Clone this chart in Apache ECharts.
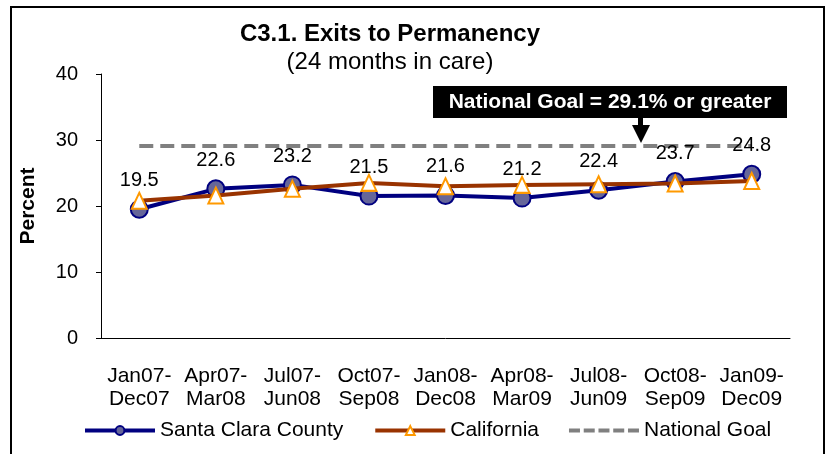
<!DOCTYPE html>
<html>
<head>
<meta charset="utf-8">
<script src="https://cdn.jsdelivr.net/npm/echarts@6/dist/echarts.min.js"></script>
<style>
    html, body {margin: 0; padding: 0; background: #fff;}
    #chart {width: 828px; height: 454px;}
</style>
</head>
<body>
<div id="chart"></div>
<script>
// 数据
var periods = ['Jan07-\nDec07', 'Apr07-\nMar08', 'Jul07-\nJun08', 'Oct07-\nSep08', 'Jan08-\nDec08',
    'Apr08-\nMar09', 'Jul08-\nJun09', 'Oct08-\nSep09', 'Jan09-\nDec09'];
var santaClara = [19.5, 22.6, 23.2, 21.5, 21.6, 21.2, 22.4, 23.7, 24.8];
var california = [20.8, 21.6, 22.6, 23.5, 23.0, 23.2, 23.3, 23.4, 23.8];
var nationalGoal = [29.1, 29.1, 29.1, 29.1, 29.1, 29.1, 29.1, 29.1, 29.1];
var yTicks = {min: 0, max: 40, interval: 10};

var font = 'Liberation Sans, Arial, sans-serif';
// 图例里的虚线图标
var dashIcon = 'path://M0,0h11v4h-11zM14.75,0h11v4h-11zM29.5,0h11v4h-11zM44.25,0h11v4h-11zM59,0h11v4h-11z';

var chart = echarts.init(document.getElementById('chart'));
var option = {
    backgroundColor: '#fff',
    animation: false,
    textStyle: {fontFamily: font, color: '#000'},
    title: {
        text: 'C3.1. Exits to Permanency',
        subtext: '(24 months in care)',
        left: 385,
        textAlign: 'center',
        top: 17,
        itemGap: 4,
        textStyle: {fontFamily: font, fontSize: 24, fontWeight: 'bold', color: '#000'},
        subtextStyle: {fontFamily: font, fontSize: 24, color: '#000'}
    },
    grid: {left: 101, right: 38, top: 74, bottom: 116},
    legend: {
        left: 78,
        top: 415,
        itemWidth: 70,
        itemHeight: 11,
        itemGap: 30,
        lineStyle: {width: 4},
        textStyle: {fontFamily: font, fontSize: 21, color: '#000'},
        data: ['Santa Clara County', 'California', {name: 'National Goal', icon: dashIcon}]
    },
    xAxis: {
        type: 'category',
        data: periods,
        boundaryGap: true,
        axisLine: {lineStyle: {color: '#000', width: 1}},
        axisTick: {alignWithLabel: true, inside: true, length: 5, lineStyle: {color: '#000'}},
        axisLabel: {fontFamily: font, fontSize: 21, color: '#000', lineHeight: 23, margin: 27, interval: 0}
    },
    yAxis: {
        type: 'value',
        min: yTicks.min,
        max: yTicks.max,
        interval: yTicks.interval,
        name: 'Percent',
        nameLocation: 'middle',
        nameRotate: 90,
        nameGap: 62,
        nameTextStyle: {fontFamily: font, fontSize: 21, fontWeight: 'bold', color: '#000'},
        axisLine: {show: true, lineStyle: {color: '#000', width: 1}},
        axisTick: {show: true, length: 5, lineStyle: {color: '#000'}},
        axisLabel: {fontFamily: font, fontSize: 20, color: '#000', margin: 23},
        splitLine: {show: false}
    },
    series: [
        {
            name: 'National Goal',
            type: 'line',
            data: nationalGoal,
            symbol: 'none',
            z: 1,
            lineStyle: {color: '#808080', width: 4, type: [14, 7]},
            itemStyle: {color: '#808080'}
        },
        {
            name: 'California',
            type: 'line',
            data: california,
            symbol: 'triangle',
            symbolSize: [15, 16],
            z: 3,
            lineStyle: {color: '#993300', width: 4},
            itemStyle: {color: '#fff', borderColor: '#FF9900', borderWidth: 2}
        },
        {
            name: 'Santa Clara County',
            type: 'line',
            data: santaClara,
            symbol: 'circle',
            symbolSize: 17,
            z: 2,
            lineStyle: {color: '#000080', width: 4},
            itemStyle: {color: '#666699', borderColor: '#000080', borderWidth: 2},
            label: {
                show: true,
                position: 'top',
                distance: 9,
                fontFamily: font,
                fontSize: 20,
                color: '#000'
            }
        }
    ],
    graphic: [
        // 外框
        {
            type: 'rect',
            shape: {x: 11, y: 7, width: 813, height: 460},
            style: {fill: 'none', stroke: '#000', lineWidth: 2},
            silent: true
        },
        // 国家目标注释
        {
            type: 'rect',
            shape: {x: 433, y: 86, width: 354, height: 32},
            style: {fill: '#000'},
            z: 10
        },
        {
            type: 'text',
            x: 610,
            y: 102,
            style: {
                text: 'National Goal = 29.1% or greater',
                fill: '#fff',
                font: 'bold 21px ' + font,
                textAlign: 'center',
                textVerticalAlign: 'middle'
            },
            z: 11
        },
        {
            type: 'rect',
            shape: {x: 638, y: 117, width: 5, height: 10},
            style: {fill: '#000'},
            z: 10
        },
        {
            type: 'polygon',
            shape: {points: [[632, 125], [650, 125], [641, 143]]},
            style: {fill: '#000'},
            z: 10
        }
    ]
};
chart.setOption(option);
</script>
</body>
</html>
